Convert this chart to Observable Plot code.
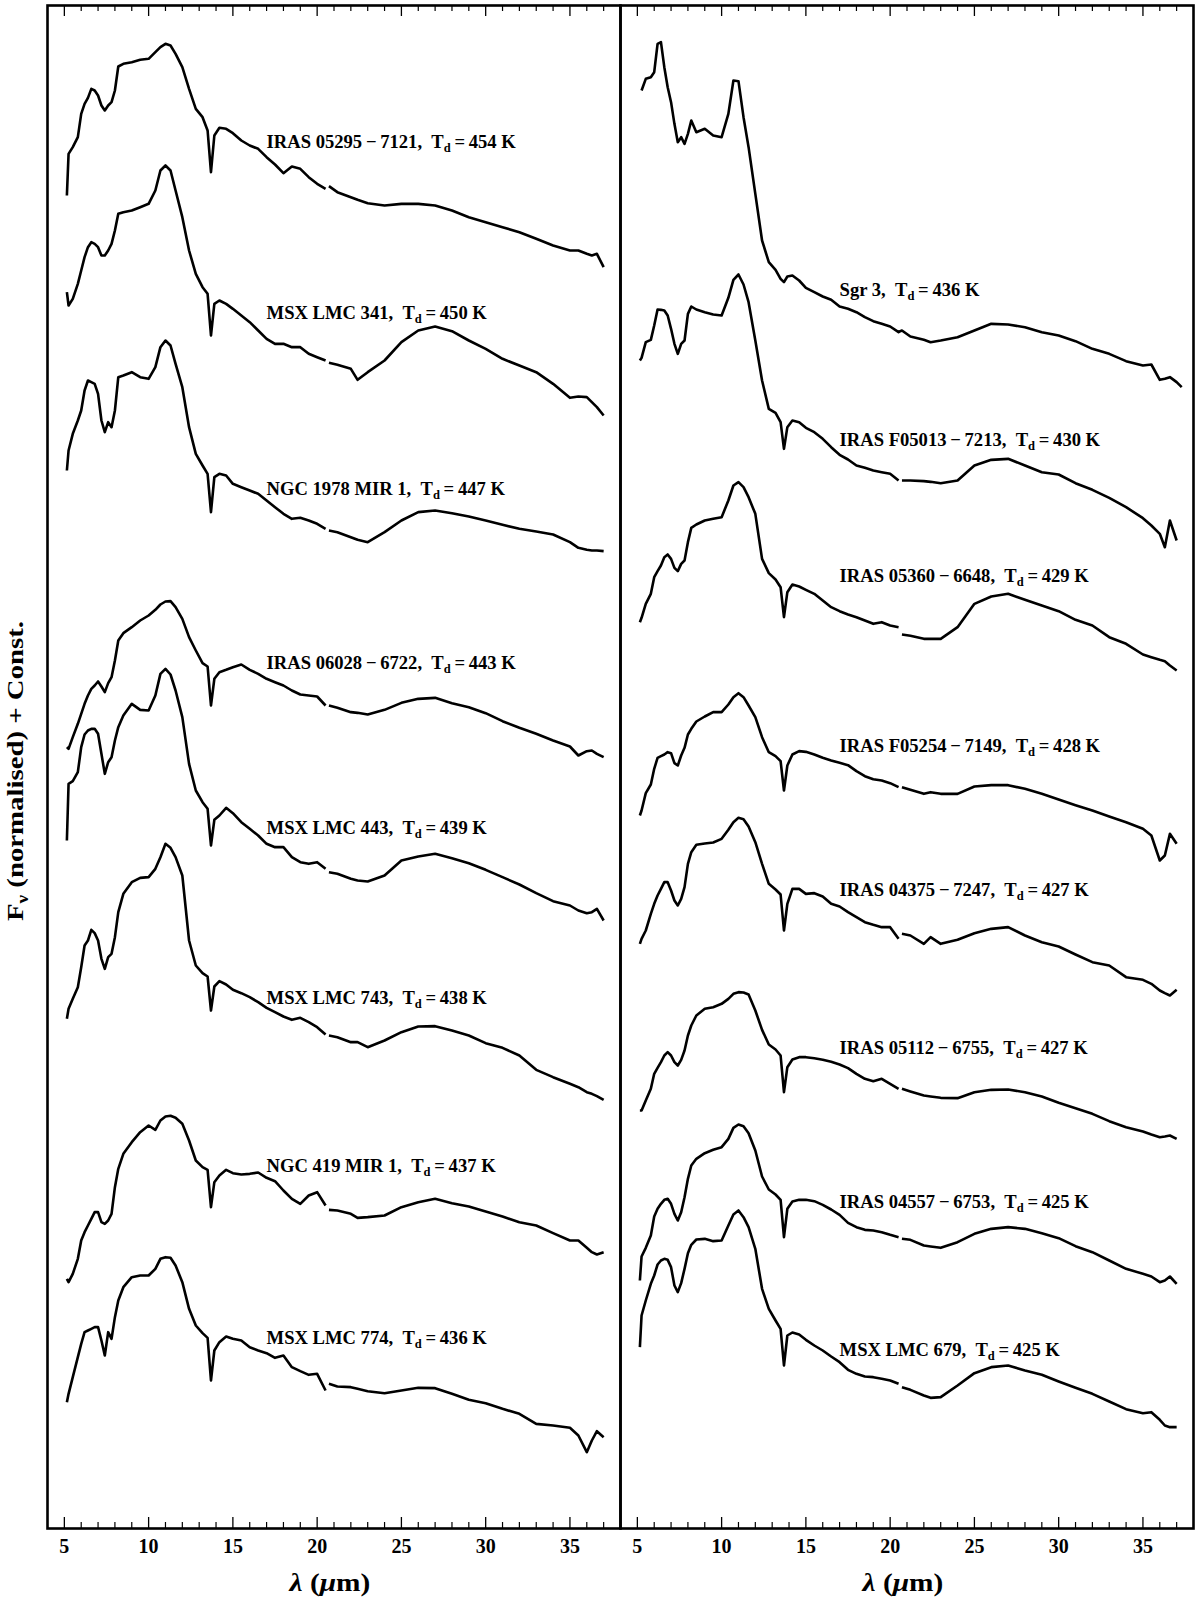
<!DOCTYPE html>
<html>
<head>
<meta charset="utf-8">
<script src="https://cdn.jsdelivr.net/npm/d3@7"></script>
<script src="https://cdn.jsdelivr.net/npm/@observablehq/plot@0.6"></script>
<style>
  html, body { margin: 0; padding: 0; background: #ffffff; }
  #chart { width: 1200px; height: 1601px; }
</style>
</head>
<body>
<div id="chart"></div>
<script>
// ---------------- data ----------------
const wavelength = [5.15,5.25,5.5,5.8,6.0,6.2,6.4,6.6,6.8,7.0,
  7.2,7.4,7.6,7.8,8.0,8.2,8.5,9.0,9.5,10.0,
  10.4,10.7,11.0,11.3,11.6,12.0,12.4,12.8,13.2,13.5,
  13.7,13.9,14.2,14.6,15.0,15.5,16.0,16.5,17.0,17.5,
  18.0,18.5,19.0,19.5,20.0,20.5,20.6,20.7,21.2,22.0,
  22.4,23.0,24.0,25.0,26.0,27.0,28.0,29.0,30.0,31.0,
  32.0,33.0,34.0,35.0,35.5,36.0,36.3,36.6,37.0,37.3];

const panels = ["L","L","L","L","L","L","L","L","R","R","R","R","R","R","R","R"];
const names = ["IRAS 05295−7121","MSX LMC 341","NGC 1978 MIR 1","IRAS 06028−6722",
  "MSX LMC 443","MSX LMC 743","NGC 419 MIR 1","MSX LMC 774",
  "Sgr 3","IRAS F05013−7213","IRAS 05360−6648","IRAS F05254−7149",
  "IRAS 04375−7247","IRAS 05112−6755","IRAS 04557−6753","MSX LMC 679"];
const dustTemps = [454,450,447,443,439,438,437,436,436,430,429,428,427,427,425,425];
// additive constants (arbitrary flux units)
const offsets = [3754,3254,2854,2254,1754,1254,654,154,3354,2854,2554,1954,1554,1154,654,254];
// vertical position of each label (same units)
const labelY = [4159,3646,3118,2596,2102,1592,1088,572,3716,3266,2858,2348,1916,1441,980,536];

// normalised flux (arbitrary units), sampled on the wavelength grid; null = no data
const fluxIRAS05295 = [245,370,390,420,490,520,538,565,560,545, 515,500,515,525,560,632,640,645,652,655, 675,690,700,695,670,630,565,505,480,440, 315,425,448,445,432,410,395,385,360,338, 312,332,325,300,280,265,null,273,255,240, 232,222,215,220,220,215,200,180,165,150, 135,115,95,80,80,70,65,70,30,null];
const fluxMSX341 = [455,415,435,480,520,560,590,605,600,590, 565,565,580,600,640,690,695,700,710,720, 760,820,835,820,760,680,580,510,470,450, 325,420,430,420,405,385,365,340,315,300, 300,290,290,270,260,250,null,243,237,225, 192,215,250,305,340,352,338,310,285,255, 235,215,180,138,142,140,125,110,85,null];
const fluxNGC1978 = [320,380,430,470,500,560,590,585,580,550, 470,435,465,450,500,600,605,615,600,595, 630,690,710,695,640,570,450,370,335,310, 195,300,310,305,280,270,260,250,230,210, 190,175,178,170,160,145,null,140,135,120, 112,105,135,170,195,200,192,182,170,157, 145,137,128,105,88,82,80,80,78,null];
const fluxIRAS06028 = [90,85,120,160,190,220,245,265,275,287, 272,255,282,300,350,410,432,450,470,485, 502,518,527,528,510,475,420,380,342,332, 215,295,315,322,330,338,322,310,295,285, 275,260,248,245,242,215,null,215,208,195, 193,188,202,223,235,238,222,210,192,168, 148,130,110,92,65,78,80,70,60,null];
const fluxMSX443 = [310,480,488,515,590,628,640,645,645,630, 570,510,545,560,610,650,685,720,702,700, 745,810,825,808,760,680,540,460,425,405, 295,372,385,408,392,365,345,325,300,290, 290,260,245,240,245,225,null,215,210,195, 190,187,205,250,262,270,257,242,222,200, 178,152,128,115,100,92,95,105,70,null];
const fluxMSX743 = [275,305,335,370,430,495,510,542,532,510, 455,425,460,470,520,595,650,685,698,700, 725,760,800,788,760,705,510,435,412,402, 300,372,388,378,362,352,340,325,308,295, 282,272,278,265,250,228,null,225,220,205, 205,190,210,235,252,253,240,225,202,188, 165,122,100,80,70,55,50,43,32,null];
const fluxNGC419 = [95,85,110,155,210,235,255,275,295,295, 265,260,270,290,370,425,470,505,535,555, 542,570,582,584,578,560,510,450,430,422, 310,385,405,422,412,408,410,414,398,388, 360,335,320,345,355,315,null,302,300,290, 278,280,285,310,325,335,322,312,297,282, 265,255,232,210,210,188,175,168,175,null];
const fluxMSX774 = [225,250,300,360,400,435,440,445,450,450, 410,365,435,415,480,530,570,600,605,605, 625,655,660,658,635,585,505,455,432,418, 290,380,405,422,415,410,390,380,372,358, 365,330,318,307,310,260,null,280,272,270, 265,258,252,260,268,267,250,232,222,205, 190,160,155,148,125,75,110,138,120,null];
const fluxSgr3 = [null,960,995,1000,1015,1100,1105,1030,970,925, 860,805,820,800,830,870,835,845,825,820, 890,990,988,880,790,650,510,445,422,395, 385,402,405,390,368,355,342,332,312,305, 295,280,268,260,252,235,238,240,222,212, 205,210,220,240,260,258,250,235,225,208, 185,170,148,135,138,92,95,100,85,70];
const fluxIRASF05013 = [650,658,705,712,755,803,802,800,785,745, 700,670,700,710,790,812,803,795,788,785, 838,892,908,878,825,710,590,505,493,465, 385,450,470,465,448,435,415,390,367,353, 335,328,320,315,310,290,null,290,290,288, 286,282,290,335,352,355,335,315,308,282, 262,238,210,177,155,130,90,170,110,null];
const fluxIRAS05360 = [165,178,220,250,300,318,335,360,368,355, 328,318,340,350,405,448,458,470,475,480, 530,575,585,570,540,490,355,312,293,270, 180,255,278,272,262,250,230,210,198,188, 180,170,160,165,155,150,null,128,124,115, 115,115,150,220,242,250,232,215,198,172, 155,120,100,68,60,52,48,35,20,null];
const fluxIRASF05254 = [185,200,252,278,325,358,363,368,375,372, 342,335,365,388,428,445,467,482,495,495, 518,540,552,540,515,480,420,375,363,348, 260,335,368,378,376,368,358,350,343,336, 318,303,294,290,282,270,null,270,262,250, 255,250,250,272,276,276,265,250,233,216, 200,182,165,145,125,50,65,130,100,null];
const fluxIRAS04375 = [200,215,240,290,320,345,365,385,385,360, 330,315,335,370,440,475,497,501,504,515, 542,565,578,574,552,505,440,380,363,348, 240,320,365,365,350,352,342,320,312,295, 280,265,257,250,250,215,null,230,225,200, 220,200,212,232,245,250,225,205,192,168, 145,135,100,92,80,60,52,45,62,null];
const fluxIRAS05112 = [100,100,130,165,210,228,245,265,275,265, 245,235,252,280,325,355,385,405,410,420, 435,450,455,454,448,400,342,298,283,265, 155,230,253,260,260,257,252,246,238,227, 210,195,188,195,180,165,null,165,157,145, 142,138,137,155,162,163,155,142,123,107, 90,68,50,37,28,20,22,25,15,null];
const fluxIRAS04557 = [90,162,188,225,282,305,320,332,335,320, 290,270,295,340,395,435,455,472,482,490, 515,548,558,553,532,480,402,363,348,332, 220,305,327,332,332,328,317,303,287,263, 250,242,240,235,227,220,null,215,212,195, 192,188,205,230,245,250,245,232,217,193, 175,150,125,110,102,85,90,102,80,null];
const fluxMSX679 = [290,385,430,480,505,538,550,555,552,530, 475,455,482,525,572,597,613,615,608,610, 655,688,700,680,650,585,465,405,370,345, 235,325,334,328,312,295,280,262,245,222, 210,202,200,195,190,180,null,170,162,145, 138,140,175,212,230,235,220,207,187,168, 150,127,104,92,95,72,55,50,50,null];

const fluxes = [fluxIRAS05295, fluxMSX341, fluxNGC1978, fluxIRAS06028, fluxMSX443, fluxMSX743, fluxNGC419, fluxMSX774,
  fluxSgr3, fluxIRASF05013, fluxIRAS05360, fluxIRASF05254, fluxIRAS04375, fluxIRAS05112, fluxIRAS04557, fluxMSX679];

const majorTicks = [5,10,15,20,25,30,35];
const minorTicks = [6,7,8,9,11,12,13,14,16,17,18,19,21,22,23,24,26,27,28,29,31,32,33,34,36,37];

// ---------------- build tables ----------------
const rows = [];
names.forEach((name, i) => {
  const f = fluxes[i];
  if (f.length !== wavelength.length) console.error("length mismatch", name, f.length);
  wavelength.forEach((lam, j) => {
    rows.push({panel: panels[i], name, lam, y: f[j] == null ? NaN : offsets[i] + f[j]});
  });
});
const labels = names.map((name, i) => ({
  panel: panels[i],
  y: labelY[i],
  text: `${name.replace("−", "\u2009−\u2009")},\u00a0\u00a0T_d\u2009=\u2009${dustTemps[i]}\u00a0K`
}));

// ---------------- layout ----------------
const W = 1200, H = 1601, mT = 5, mB = 73, mL = 47, mR = 7;
const plotH = H - mT - mB;
const font = "'Liberation Serif', 'Times New Roman', Times, serif";

const svg = Plot.plot({
  width: W, height: H,
  marginTop: mT, marginBottom: mB, marginLeft: mL, marginRight: mR,
  style: {background: "white", fontFamily: font, overflow: "visible"},
  fx: {domain: ["L", "R"], padding: 0, axis: null, label: null},
  x: {domain: [4, 38], axis: null},
  y: {domain: [0, 4569], axis: null},
  marks: [
    Plot.ruleX(minorTicks, {x: d => d, insetTop: plotH - 6, stroke: "black", strokeWidth: 1.2}),
    Plot.ruleX(minorTicks, {x: d => d, insetBottom: plotH - 6, stroke: "black", strokeWidth: 1.2}),
    Plot.ruleX(majorTicks, {x: d => d, insetTop: plotH - 11, stroke: "black", strokeWidth: 1.3}),
    Plot.ruleX(majorTicks, {x: d => d, insetBottom: plotH - 11, stroke: "black", strokeWidth: 1.3}),
    Plot.line(rows, {x: "lam", y: "y", z: "name", fx: "panel", stroke: "black",
      strokeWidth: 2.6, strokeLinejoin: "round", strokeLinecap: "butt"}),
    Plot.text(labels, {fx: "panel", x: () => 17, y: "y", text: "text", textAnchor: "start",
      fontSize: 18.6, fontWeight: "bold", fontFamily: font, fill: "black"}),
    Plot.text(majorTicks, {x: d => d, text: d => String(d), frameAnchor: "bottom", dy: 24,
      fontSize: 20, fontWeight: "bold", fontFamily: font, fill: "black"}),
    Plot.text(["L", "R"], {fx: d => d, frameAnchor: "bottom", dy: 62, dx: -4, text: () => "λ (μm)",
      fontSize: 26, fontWeight: "bold", fontFamily: font, fill: "black"}),
    Plot.frame({stroke: "black", strokeWidth: 2.6})
  ]
});

// ---------------- rich text (subscripts / italics) ----------------
const ns = "http://www.w3.org/2000/svg";
function tspan(parent, txt, attrs = {}) {
  const t = document.createElementNS(ns, "tspan");
  t.textContent = txt;
  for (const [k, v] of Object.entries(attrs)) t.setAttribute(k, v);
  parent.appendChild(t);
  return t;
}
svg.querySelectorAll("text").forEach(el => {
  const s = el.textContent;
  if (s.includes("T_d")) {
    const [pre, post] = s.split("T_d");
    el.textContent = "";
    tspan(el, pre + "T");
    tspan(el, "d", {"font-size": 12.5, dy: 4});
    tspan(el, post, {dy: -4});
  } else if (s === "λ (μm)") {
    el.textContent = "";
    tspan(el, "λ", {"font-style": "italic"});
    tspan(el, " (");
    tspan(el, "μ", {"font-style": "italic"});
    tspan(el, "m)");
    const tr = el.getAttribute("transform") || "";
    el.setAttribute("transform", tr + " scale(1.13,1)");
  }
});
const yl = document.createElementNS(ns, "text");
yl.setAttribute("transform", "translate(15,771) rotate(-90) scale(1.2,1)");
yl.setAttribute("text-anchor", "middle");
yl.setAttribute("dy", "0.35em");
yl.setAttribute("font-size", 24);
yl.setAttribute("font-weight", "bold");
yl.setAttribute("font-family", font);
yl.setAttribute("fill", "black");
tspan(yl, "F");
tspan(yl, "ν", {"font-size": 16, dy: 5});
tspan(yl, " (normalised) + Const.", {dy: -5});
svg.appendChild(yl);

document.getElementById("chart").appendChild(svg);
</script>
</body>
</html>
